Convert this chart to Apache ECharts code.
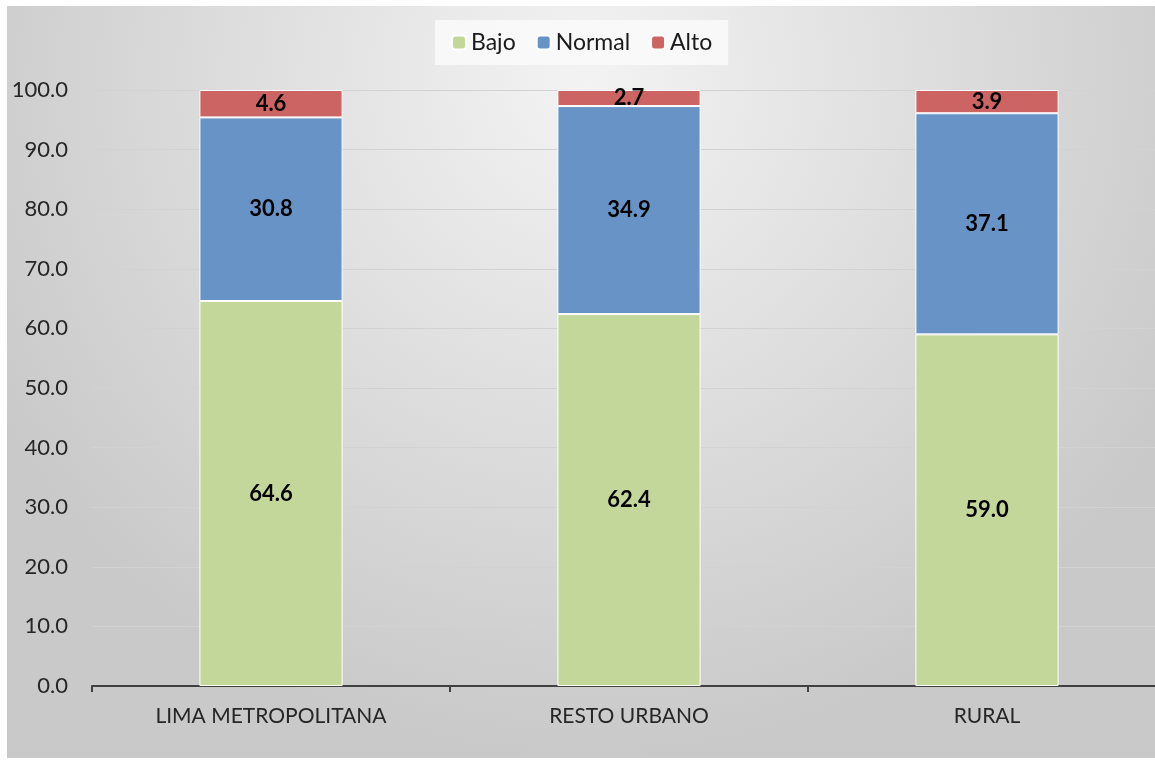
<html lang="es">
<head>
    <meta charset="UTF-8">
    <title>Bajo / Normal / Alto</title>
    <script src="https://cdn.jsdelivr.net/npm/echarts@6/dist/echarts.min.js"></script>
    <style>
        html, body { margin: 0; padding: 0; background: #ffffff; overflow: hidden; }
        #chart {
            position: absolute;
            left: 7px;
            top: 6px;
            width: 1159px;
            height: 752px;
        }
    </style>
</head>
<body>
    <div id="chart"></div>
    <script>
        // datos
        var categorias = ['LIMA METROPOLITANA', 'RESTO URBANO', 'RURAL'];
        var bajo = [64.6, 62.4, 59.0];
        var normal = [30.8, 34.9, 37.1];
        var alto = [4.6, 2.7, 3.9];

        var fuente = 'Lato, "Noto Sans", sans-serif';

        function serie(nombre, datos, color) {
            return {
                name: nombre,
                type: 'bar',
                stack: 'total',
                data: datos,
                barWidth: '40%',
                itemStyle: { color: color, borderColor: '#ffffff', borderWidth: 1 },
                label: {
                    show: true,
                    position: 'inside',
                    formatter: function (p) { return p.value.toFixed(1); },
                    color: '#000000',
                    fontWeight: 'bold',
                    fontSize: 22,
                    fontFamily: fuente
                }
            };
        }

        var myChart = echarts.init(document.getElementById('chart'));
        var option = {
            backgroundColor: {
                type: 'radial',
                x: 0.5, y: 0.1, r: 0.9,
                colorStops: [
                    { offset: 0, color: '#f3f3f3' },
                    { offset: 1, color: '#c9c9c9' }
                ]
            },
            animation: false,
            legend: {
                top: 14,
                left: 428,
                itemWidth: 14,
                itemHeight: 14,
                itemGap: 20,
                padding: [11, 16, 11, 16],
                backgroundColor: 'rgba(250,250,250,0.85)',
                textStyle: { fontSize: 23, color: '#1a1a1a', fontFamily: fuente },
                data: ['Bajo', 'Normal', 'Alto']
            },
            grid: { left: 85, right: 0, top: 84, bottom: 72 },
            xAxis: {
                type: 'category',
                data: categorias,
                axisLine: { lineStyle: { color: '#404040', width: 2 } },
                axisTick: { show: true, length: 6, lineStyle: { color: '#404040', width: 2 } },
                axisLabel: { fontSize: 21, color: '#262626', margin: 20, fontFamily: fuente }
            },
            yAxis: {
                type: 'value',
                min: 0,
                max: 100,
                interval: 10,
                axisLine: { show: false },
                axisTick: { show: false },
                splitLine: { lineStyle: { color: '#d2d2d2', width: 1 } },
                axisLabel: {
                    fontSize: 22, color: '#262626', margin: 24, fontFamily: fuente,
                    formatter: function (v) { return v.toFixed(1); }
                }
            },
            series: [
                serie('Bajo', bajo, '#c4d79b'),
                serie('Normal', normal, '#6893c6'),
                serie('Alto', alto, '#cc6464')
            ]
        };
        myChart.setOption(option);
    </script>
</body>
</html>
